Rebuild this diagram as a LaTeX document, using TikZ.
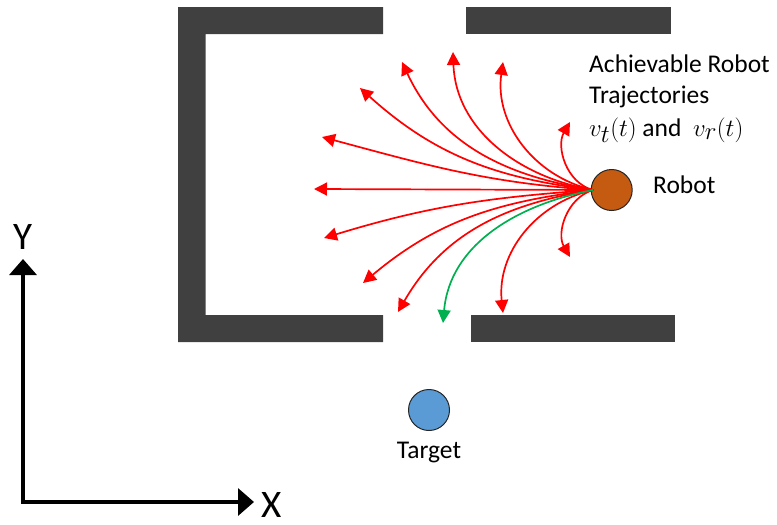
\documentclass[tikz,border=0pt]{standalone}
\usepackage{fontspec}
\setmainfont{Carlito}
\usetikzlibrary{arrows.meta}
\definecolor{wallgray}{HTML}{404040}
\definecolor{robotfill}{HTML}{C55A11}
\definecolor{targetfill}{HTML}{5B9BD5}
\definecolor{trajred}{HTML}{FF0000}
\definecolor{trajgreen}{HTML}{00B050}
\tikzset{
  wall/.style={fill=wallgray, draw=none},
  traj/.style={draw=trajred, line width=1.7pt, -{Triangle[length=13pt,width=13pt]}},
  goodtraj/.style={traj, draw=trajgreen},
  axis/.style={line width=3.5pt, -{Triangle[length=16pt,width=27pt]}},
  lbl/.style={font=\fontsize{25.5}{30}\selectfont, inner sep=0pt},
  axlbl/.style={font=\fontsize{39}{39}\selectfont, inner sep=0pt},
}
\newcommand{\bigmath}[1]{{\fontsize{33}{34}\selectfont$#1$}}
\begin{document}
\begin{tikzpicture}[x=1pt,y=1pt]
\useasboundingbox (0,0) rectangle (777,-525);
% walls
\fill[wall] (178,-7) -- (383,-7) -- (383,-34) -- (205.7,-34) -- (205.7,-315) -- (383,-315) -- (383,-342) -- (178,-342) -- cycle;
\fill[wall] (466,-7) rectangle (671,-34);
\fill[wall] (471,-315) rectangle (675,-342);
% robot and target
\node[circle, draw=black!85, line width=1pt, fill=robotfill, minimum size=41pt, inner sep=0pt] (robot) at (611.7,-190) {};
\node[circle, draw=black!85, line width=1pt, fill=targetfill, minimum size=41pt, inner sep=0pt] (target) at (429,-410) {};
\coordinate (s) at (593,-190);
% trajectory end points
\coordinate (t1) at (570,-122);
\coordinate (t2) at (503,-62);
\coordinate (t3) at (453,-52);
\coordinate (t4) at (402,-62);
\coordinate (t5) at (360,-88);
\coordinate (t6) at (322,-137);
\coordinate (t7) at (314,-189);
\coordinate (t8) at (324,-238);
\coordinate (t9) at (363,-283);
\coordinate (t10) at (398,-312);
\coordinate (t11) at (443,-323);
\coordinate (t12) at (503,-313);
\coordinate (t13) at (570,-257);
% trajectories
\draw[traj] (s) to[out=165,in=240] (t1);
\draw[traj] (s) to[out=167,in=262] (t2);
\draw[traj] (s) to[out=170,in=272] (t3);
\draw[traj] (s) to[out=171,in=295] (t4);
\draw[traj] (s) to[out=173,in=318] (t5);
\draw[traj] (s) to[out=176,in=345] (t6);
\draw[traj] (s) -- (t7);
\draw[traj] (s) to[out=184,in=17] (t8);
\draw[traj] (s) to[out=187,in=40] (t9);
\draw[traj] (s) to[out=189,in=60] (t10);
\draw[traj] (s) to[out=193,in=96] (t12);
\draw[traj] (s) to[out=197,in=120] (t13);
\draw[goodtraj] (s) to[out=191,in=85] (t11);
% labels
\node[lbl, anchor=base west] (l1) at (589,-72) {Achievable Robot};
\node[lbl, anchor=base west] (l2) at (589,-103) {Trajectories};
\node[lbl, anchor=base west] (l3) at (589,-136) {\bigmath{v_t(t)} and \ \bigmath{v_r(t)}};
\node[lbl, anchor=base west] (rl) at (653,-193) {Robot};
\node[lbl, anchor=base] (tl) at (429,-458) {Target};
% axes
\coordinate (O) at (23,-502);
\coordinate (ytip) at (23,-259);
\coordinate (xtip) at (254,-502);
\draw[axis] ([yshift=-1.75pt]O) -- (ytip);
\draw[axis] ([xshift=-1.75pt]O) -- (xtip);
\node[axlbl] (Y) at (23,-237) {Y};
\node[axlbl] (X) at (272,-505) {X};
\end{tikzpicture}
\end{document}
